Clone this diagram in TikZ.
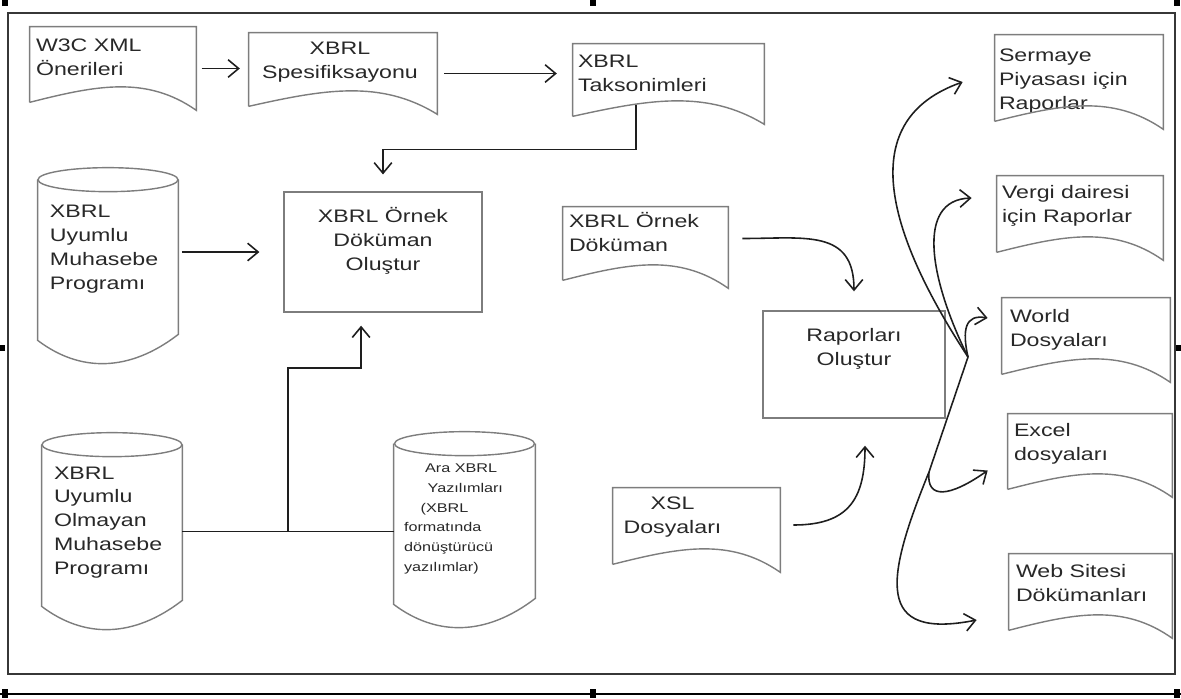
\documentclass[tikz,border=0pt]{standalone}
\usepackage{fontspec}
\setmainfont{Liberation Sans}[FakeStretch=1.28]
\usetikzlibrary{arrows.meta,calc,fit}
\definecolor{Frame}{RGB}{55,55,55}
\definecolor{Edge}{RGB}{125,125,125}
\definecolor{Ink}{RGB}{30,30,30}
\definecolor{Txt}{RGB}{40,40,40}

% document shape: straight top and sides, wavy bottom
\newcommand{\docoutline}[1]{%
  \draw[edge] ($(#1.south west)+(0,-8)$) -- (#1.north west) -- (#1.north east) -- (#1.south east)
    .. controls ($(#1.south west)!0.7!(#1.south east)+(0,-35)$)
    and ($(#1.south west)!0.4!(#1.south east)+(0,-25)$) .. ($(#1.south west)+(0,-8)$);}
% can shape: ellipse on top, pointed bottom
\newcommand{\canoutline}[1]{%
  \draw[edge] ($(#1.north)+(0,12)$) ellipse [x radius=70, y radius=12];
  \draw[edge] ($(#1.north west)+(0,12)$) -- ($(#1.south west)+(0,-24)$)
    .. controls ($(#1.south west)!0.3!(#1.south east)+(0,8)$)
    and ($(#1.south west)!0.65!(#1.south east)+(0,8)$) .. ($(#1.south east)+(0,-30)$)
    -- ($(#1.north east)+(0,12)$);}

\begin{document}
\begin{tikzpicture}[x=0.02cm,y=-0.02cm,
    edge/.style={draw=Edge, line width=0.8pt},
    box/.style={inner sep=0pt},
    procbox/.style={box, draw=Edge, line width=0.8pt},
    lbl/.style={text=Txt, inner sep=0pt, align=left, font=\fontsize{10.3}{13.6}\selectfont},
    small/.style={lbl, font=\fontsize{7.2}{11.3}\selectfont},
    conn/.style={draw=Ink, line width=0.9pt, -{Straight Barb[length=6pt,width=10pt]}},
    link/.style={draw=Ink, line width=0.9pt}]
  \useasboundingbox (0,0) rectangle (1181,698);

  % frame and selection handles
  \draw[Frame, line width=1.5pt] (8,13) rectangle (1175,674);
  \draw[black, line width=0.6pt] (0,694) -- (1181,694);
  \foreach \hx in {2,590,1174} {
    \fill[black] (\hx,0) rectangle ++(6,6);
    \fill[black] (\hx,689) rectangle ++(6,9);
  }
  \fill[black] (0,345) rectangle ++(5,6);
  \fill[black] (1176,345) rectangle ++(5,6);

  % documents (label base is the last line)
  \node[box, fit={(30,27) (196,110)},
    label={[lbl, anchor=base west, shift={(6,49)}]north west:W3C XML\\Önerileri}] (w3c) {};
  \node[box, fit={(249,33) (437,114)},
    label={[lbl, align=center, anchor=base, shift={(-3,46)}]north:XBRL\\Spesifiksayonu}] (spec) {};
  \node[box, fit={(573,44) (764,124)},
    label={[lbl, anchor=base west, shift={(5,48)}]north west:XBRL\\Taksonimleri}] (taks) {};
  \node[box, fit={(995,35) (1163,129)},
    label={[lbl, anchor=base west, shift={(4,75)}]north west:Sermaye\\Piyasası için\\Raporlar}] (sermaye) {};
  \node[box, fit={(997,176) (1163,260)},
    label={[lbl, anchor=base west, shift={(5,47)}]north west:Vergi dairesi\\için Raporlar}] (vergi) {};
  \node[box, fit={(1002,298) (1170,382)},
    label={[lbl, anchor=base west, shift={(8,49)}]north west:World\\Dosyaları}] (world) {};
  \node[box, fit={(1008,414) (1172,497)},
    label={[lbl, anchor=base west, shift={(6,47)}]north west:Excel\\dosyaları}] (excel) {};
  \node[box, fit={(1009,554) (1172,638)},
    label={[lbl, anchor=base west, shift={(7,48)}]north west:Web Sitesi\\Dökümanları}] (web) {};
  \node[box, fit={(563,207) (728,288)},
    label={[lbl, anchor=base west, shift={(6,45)}]north west:XBRL Örnek\\Döküman}] (ornek) {};
  \node[box, fit={(613,488) (780,572)},
    label={[lbl, align=center, anchor=base, shift={(-24,46)}]north:XSL\\Dosyaları}] (xsl) {};
  \foreach \d in {w3c,spec,taks,sermaye,vergi,world,excel,web,ornek,xsl} {\docoutline{\d}}

  % process boxes
  \node[procbox, fit={(284,192) (482,312)},
    label={[lbl, align=center, anchor=base, shift={(0,79)}]north:XBRL Örnek\\Döküman\\Oluştur}] (create) {};
  \node[procbox, fit={(763,311) (945,418)},
    label={[lbl, align=center, anchor=base, shift={(0,55)}]north:Raporları\\Oluştur}] (report) {};

  % stored programs
  \node[box, fit={(38,168) (178,364)},
    label={[lbl, anchor=base west, shift={(12,122)}]north west:XBRL\\Uyumlu\\Muhasebe\\Programı}] (cyl1) {};
  \node[box, fit={(42,433) (182,630)},
    label={[lbl, anchor=base west, shift={(12,142)}]north west:XBRL\\Uyumlu\\Olmayan\\Muhasebe\\Programı}] (cyl2) {};
  \node[box, fit={(394,432) (535,628)},
    label={[small, anchor=base west, shift={(10,140)}]north west:\hspace*{12pt}Ara XBRL\\\hspace*{13.5pt}Yazılımları\\\hspace*{9.5pt}(XBRL\\formatında\\dönüştürücü\\yazılımlar)}] (ara) {};
  \foreach \c in {cyl1,cyl2,ara} {\canoutline{\c}}

  % connectors
  \draw[conn, shorten <=3pt, shorten >=5pt] (w3c.east) -- (w3c.east -| spec.west);
  \draw[conn, shorten <=4pt, shorten >=9pt] (spec.east) -- (spec.east -| taks.west);
  \coordinate (taksout) at ($(taks.south west)!0.33!(taks.south east)+(0,-19)$);
  \draw[conn, shorten >=9.6pt] (taksout) |- ($(create.north)+(0,-42)$) -- (create.north);
  \draw[conn, shorten <=2pt, shorten >=13.6pt] (create.west -| cyl1.east) -- (create.west);
  \draw[link] (cyl2.east) -- (cyl2.east -| ara.west);
  \coordinate (split) at ($(cyl2.east)!0.5!(cyl2.east -| ara.west)$);
  \coordinate (createin) at ($(create.south west)!0.39!(create.south east)$);
  \draw[conn, shorten >=7.4pt] (split) |- ($(createin)+(0,55)$) -- (createin);
  \draw[conn] ($(ornek.east)+(14,-9)$) to[out=0, in=90, looseness=1.3] ($(report.north)+(0,-19)$);
  \draw[conn] ($(xsl.east)+(13,-5)$) to[out=0, in=-90, looseness=1.3] ($(report.south)+(11,27)$);

  % fan of outputs
  \coordinate (hub) at (968,357);
  \coordinate (fork) at (929,472);
  \draw[conn] (hub) .. controls (885,230) and (855,120) .. ($(sermaye.west)+(-32,0)$);
  \draw[conn] (hub) .. controls (930,280) and (915,200) .. ($(vergi.west)+(-25,-20)$);
  \draw[conn] (hub) .. controls (962,330) and (965,314) .. ($(world.west)+(-14,-22)$);
  \draw[link] (hub) -- (fork);
  \draw[conn] (fork) .. controls (926,500) and (950,497) .. ($(excel.west)+(-20,15)$);
  \draw[conn] (fork) .. controls (885,580) and (875,640) .. ($(web.west)+(-32,24)$);
\end{tikzpicture}
\end{document}
